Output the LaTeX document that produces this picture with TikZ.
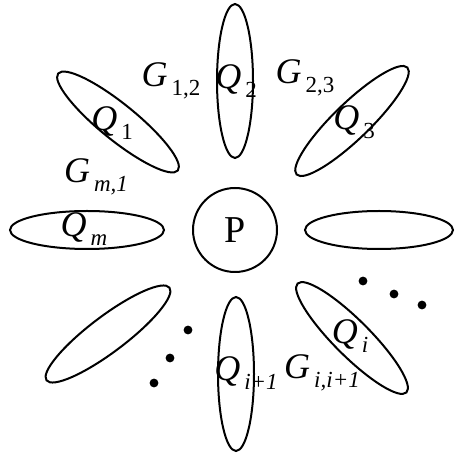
\documentclass[tikz,border=0pt]{standalone}
\usepackage{fontspec}
\setmainfont{Liberation Serif}
\usetikzlibrary{shapes.geometric}

\newcommand{\idx}[2]{\textit{#1}\hspace{2pt}\raisebox{-4.5pt}{\fontsize{11.5}{12}\selectfont #2}}

\begin{document}
\begin{tikzpicture}[x=0.5pt, y=0.5pt,
    oval/.style={ellipse, draw, line width=1pt, minimum width=77pt, minimum height=18pt, inner sep=0pt},
    hub/.style={circle, draw, line width=1pt, minimum size=42pt, inner sep=0pt, font=\fontsize{19}{22}\selectfont},
    lbl/.style={inner sep=0pt, font=\fontsize{18}{21}\selectfont},
    dot/.style={circle, fill, inner sep=0pt, minimum size=4.4pt},
]
\useasboundingbox (0,0) rectangle (455,455);

\node[hub] (p) at (235,225) {P};

% the sets around P
\node[oval, rotate=90] (e2) at (235,374) {};
\node[oval, rotate=90] (eip) at (236,81) {};
\node[oval, minimum height=19pt] (em) at (87,225) {};
\node[oval, minimum width=74pt, minimum height=19pt] (er) at (379,225) {};
\node[oval, rotate=-39] (e1) at (118,333) {};
\node[oval, rotate=44] (e3) at (352,334) {};
\node[oval, rotate=37] (ebl) at (108,121) {};
\node[oval, rotate=-45] (ei) at (352,117) {};

% labels
\node[lbl] (q1) at (112,332) {\idx{Q}{1}};
\node[lbl] (q2) at (236,374) {\idx{Q}{2}};
\node[lbl] (q3) at (354,333) {\idx{Q}{3}};
\node[lbl] (qm) at (84,226) {\idx{Q}{\textit{m}}};
\node[lbl] (qi) at (350,119) {\idx{Q}{\textit{i}}};
\node[lbl] (qip) at (246,82) {\idx{Q}{\textit{i+1}}};
\node[lbl] (g12) at (171,374) {\idx{G}{1,2}};
\node[lbl] (g23) at (305,377) {\idx{G}{2,3}};
\node[lbl] (gm1) at (96,278) {\idx{G}{\textit{m,1}}};
\node[lbl] (gii) at (322,82) {\idx{G}{\textit{i,i+1}}};

% dots
\foreach \x/\y [count=\k] in {363/174, 394/161, 422/150, 188/125, 170/97, 154/72}
  \node[dot] (d\k) at (\x,\y) {};

\end{tikzpicture}
\end{document}
